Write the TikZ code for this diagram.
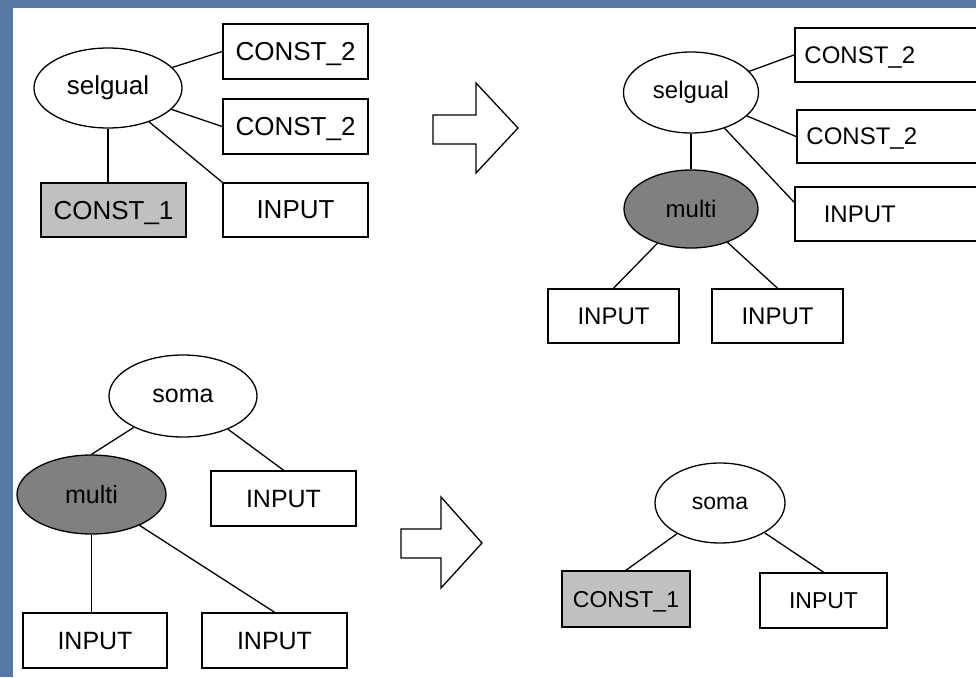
\documentclass[tikz,border=0pt]{standalone}
\usepackage{fontspec}
\setmainfont{Liberation Sans}
\usetikzlibrary{shapes.geometric}

\definecolor{slideblue}{RGB}{86,120,163}
\definecolor{constgray}{RGB}{192,192,192}
\definecolor{opgray}{RGB}{128,128,128}

% text of the boxes that run off the right edge
\newcommand{\cuttext}[1]{\makebox[130pt]{#1}}

\begin{document}
\begin{tikzpicture}[x=1pt, y=-1pt,
    op/.style={ellipse, draw, line width=1.3pt, fill=white, inner sep=0pt},
    multiop/.style={op, fill=opgray},
    box/.style={rectangle, draw, line width=1.6pt, fill=white, inner sep=2pt, text depth=0pt},
    constbox/.style={box, fill=constgray},
    openbox/.style={box, anchor=west, inner xsep=0pt, text width=190pt, align=left},
    dims/.style 2 args={minimum width=#1, minimum height=#2},
    edge/.style={line width=1.3pt},
    bigarrow/.style={draw, line width=1.3pt, fill=white, line join=miter}
]
    \useasboundingbox (0,0) rectangle (976,677);
    \clip (0,0) rectangle (976,677);
    \fill[slideblue] (0,0) rectangle (976,677);
    \fill[white] (13,8) rectangle (976,677);

    % before: selgual with a constant branch
    \begin{scope}[nodes={font=\fontsize{26}{30}\selectfont}]
        \node[op, dims={148pt}{80pt}] (sel1) at (108,88) {selgual};
        \node[box, dims={145pt}{55pt}] (c2a) at (295.5,51.5) {CONST\_2};
        \node[box, dims={145pt}{55pt}] (c2b) at (295.5,126.5) {CONST\_2};
        \node[constbox, dims={145pt}{54pt}] (c1a) at (113.5,210) {CONST\_1};
        \node[box, dims={145pt}{54pt}] (in1) at (295.5,210) {INPUT};

        \draw[edge] (sel1) -- (c2a.west);
        \draw[edge] (sel1) -- (c2b.west);
        \draw[edge] (sel1) -- (in1.north west);
        \draw[edge] (sel1) -- (sel1 |- c1a.north);
    \end{scope}

    \draw[bigarrow] (433,115) -- (476,115) -- (476,83) -- (518,128)
        -- (476,173) -- (476,144) -- (433,144) -- cycle;

    % after: constant replaced by multi
    \begin{scope}[nodes={font=\fontsize{24}{28}\selectfont}]
        \node[op, dims={135pt}{81pt}] (sel2) at (691,92.5) {selgual};
        \node[openbox, dims={190pt}{54pt}] (c2c) at (794,55) {\cuttext{CONST\_2}};
        \node[openbox, dims={190pt}{53pt}] (c2d) at (796,136.5) {\cuttext{CONST\_2}};
        \node[openbox, dims={190pt}{54pt}] (in2) at (794,214) {\cuttext{INPUT}};
        \node[multiop, dims={134pt}{78pt}] (mul1) at (691,209) {multi};
        \node[box, dims={131pt}{54pt}] (in3) at (613.5,316) {INPUT};
        \node[box, dims={131pt}{54pt}] (in4) at (777.5,316) {INPUT};

        \draw[edge] (sel2) -- (c2c.west);
        \draw[edge] (sel2) -- (c2d.west);
        \draw[edge] (sel2) -- ([yshift=-16pt]in2.north west);
        \draw[edge] (sel2) -- (mul1);
        \draw[edge] (mul1) -- (in3.north);
        \draw[edge] (mul1) -- (in4.north);
    \end{scope}

    % before: soma over multi
    \begin{scope}[nodes={font=\fontsize{25}{29}\selectfont}]
        \node[op, dims={148pt}{82pt}] (soma1) at (183,396) {soma};
        \node[multiop, dims={149pt}{79pt}] (mul2) at (91.5,494.5) {multi};
        \node[box, dims={145pt}{55pt}] (in5) at (283.5,498.5) {INPUT};
        \node[box, dims={144pt}{55pt}] (in6) at (95,640.5) {INPUT};
        \node[box, dims={145pt}{55pt}] (in7) at (274.5,640.5) {INPUT};

        \draw[edge] (soma1) -- (mul2.north);
        \draw[edge] (soma1) -- (in5.north);
        \draw[edge] (mul2) -- (mul2 |- in6.north);
        \draw[edge] (mul2) -- (in7.north);
    \end{scope}

    \draw[bigarrow] (401,529) -- (441,529) -- (441,497) -- (482,543)
        -- (441,588) -- (441,558) -- (401,558) -- cycle;

    % after: multi folded into a constant
    \begin{scope}[nodes={font=\fontsize{23}{27}\selectfont}]
        \node[op, dims={130pt}{80pt}] (soma2) at (720,503) {soma};
        \node[constbox, dims={128pt}{56pt}] (c1b) at (626,599) {CONST\_1};
        \node[box, dims={127pt}{55pt}] (in8) at (823.5,600.5) {INPUT};

        \draw[edge] (soma2) -- (c1b.north);
        \draw[edge] (soma2) -- (in8.north);
    \end{scope}
\end{tikzpicture}
\end{document}
